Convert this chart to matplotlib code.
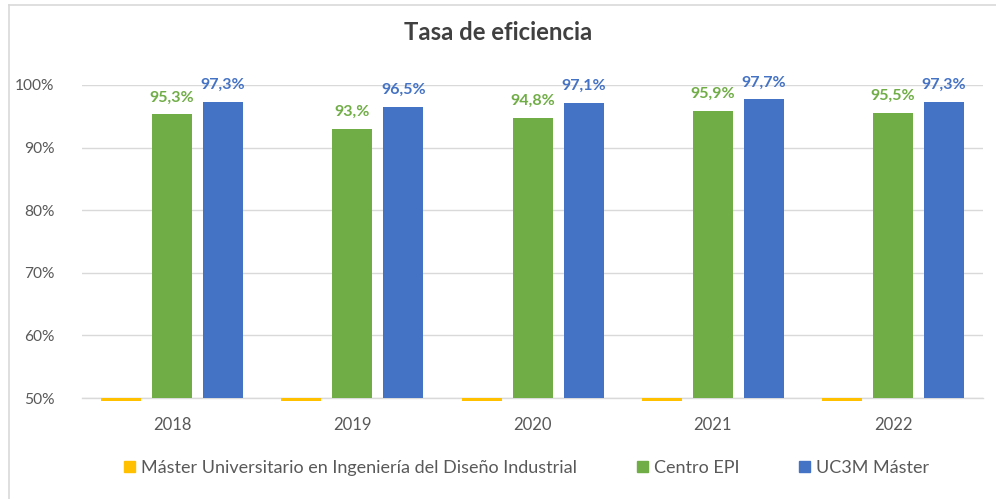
import numpy as np
import matplotlib
matplotlib.use("Agg")
from matplotlib import pyplot as plt
from matplotlib.lines import Line2D

years = ["2018", "2019", "2020", "2021", "2022"]
master_diseno = [0, 0, 0, 0, 0]  # sin datos, Excel lo pinta como raya en el eje
centro_epi = [95.3, 93.0, 94.8, 95.9, 95.5]
uc3m_master = [97.3, 96.5, 97.1, 97.7, 97.3]
labels_epi = ["95,3%", "93,%", "94,8%", "95,9%", "95,5%"]
labels_uc3m = ["97,3%", "96,5%", "97,1%", "97,7%", "97,3%"]
series_names = ["Máster Universitario en Ingeniería del Diseño Industrial",
                "Centro EPI", "UC3M Máster"]
colors = ["#FFC000", "#70AD47", "#4472C4"]

plt.rcParams['font.family'] = ['Lato', 'DejaVu Sans']
text_gray = "#595959"
grid_gray = "#D9D9D9"
ymin, ymax = 50, 100

fig = plt.figure(figsize=(9.96, 4.99), dpi=100)
ax = fig.add_axes([0.0823, 0.2024, 0.9047, 0.6273])

x = np.arange(len(years))
width = 0.222
step = 0.283

# yellow series: values below axis minimum -> thin line at the baseline
yel = np.array(master_diseno, dtype=float)
yel_h = np.where(yel < ymin, -0.4, yel - ymin)
ax.bar(x - step, yel_h, width, bottom=ymin, color=colors[0], clip_on=False, zorder=3)
ax.bar(x, centro_epi, width, color=colors[1], zorder=3)
ax.bar(x + step, uc3m_master, width, color=colors[2], zorder=3)

for xi, v, lab in zip(x, centro_epi, labels_epi):
    ax.text(xi, v + 1.6, lab, ha="center", va="bottom", color=colors[1],
            fontsize=11.5, fontweight="bold")
for xi, v, lab in zip(x + step, uc3m_master, labels_uc3m):
    ax.text(xi, v + 1.6, lab, ha="center", va="bottom", color=colors[2],
            fontsize=11.5, fontweight="bold", clip_on=False)

ax.set_ylim(ymin, ymax)
ax.set_xlim(-0.5, len(years) - 0.5)
ax.set_yticks(np.arange(50, 101, 10))
ax.set_yticklabels([f"{t}%" for t in range(50, 101, 10)])
ax.set_xticks(x)
ax.set_xticklabels(years)
ax.tick_params(axis="both", length=0, colors=text_gray)
ax.tick_params(axis="x", pad=14, labelsize=12)
ax.tick_params(axis="y", pad=20, labelsize=11.2)
ax.grid(axis="y", color=grid_gray, linewidth=1, zorder=0)
ax.set_axisbelow(True)
for s in ["top", "right", "left"]:
    ax.spines[s].set_visible(False)
ax.spines["bottom"].set_color(grid_gray)
ax.spines["bottom"].set_linewidth(1)

fig.text(0.5, 0.935, "Tasa de eficiencia", ha="center", va="center",
         fontsize=17.2, fontweight="bold", color="#404040")

handles = [plt.Rectangle((0, 0), 1, 1, color=c) for c in colors]
fig.legend(handles, series_names, loc="center", bbox_to_anchor=(0.529, 0.062),
           ncol=3, frameon=False, fontsize=13, handlelength=0.6, handleheight=0.6,
           columnspacing=3.3, handletextpad=0.35, labelcolor=text_gray)

# chart border (left and top edges visible)
fig.add_artist(Line2D([0.0095, 0.0095], [0, 0.99], transform=fig.transFigure,
                      color=grid_gray, linewidth=1.2))
fig.add_artist(Line2D([0.0095, 1], [0.99, 0.99], transform=fig.transFigure,
                      color=grid_gray, linewidth=1.2))

fig.savefig("out.png", dpi=100)
